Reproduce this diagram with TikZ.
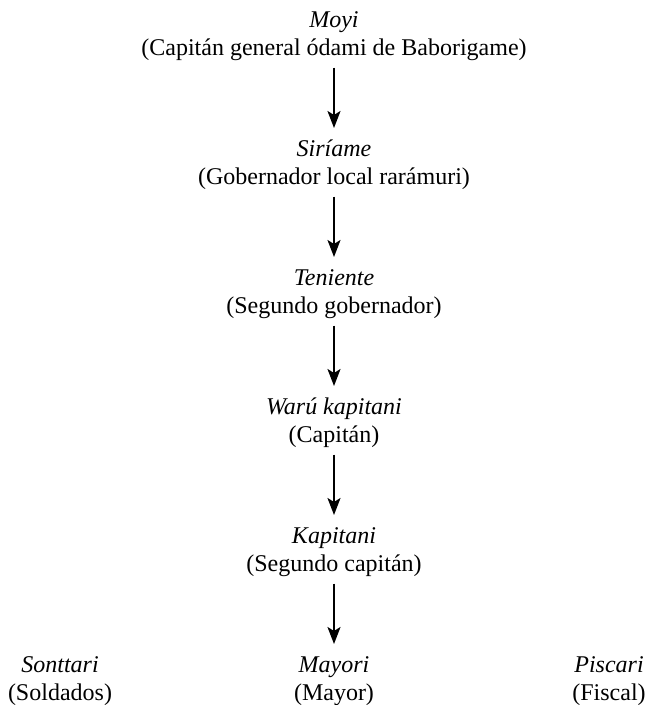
\documentclass[tikz,border=0pt]{standalone}
\usepackage{fontspec}
\setmainfont{Liberation Serif}
\usetikzlibrary{arrows.meta}
\begin{document}
\begin{tikzpicture}[x=1pt,y=-1pt,
  t/.style={anchor=base,inner sep=0pt,font=\fontsize{24}{28}\selectfont},
  arr/.style={line width=2pt,-{Stealth[length=17pt,width=13pt,inset=4pt]}}]
\useasboundingbox (0,0) rectangle (645,705);
% baselines: 27 + 129 i ; second line +28.5
\node[t] (moyiA) at (334,27) {\textit{Moyi}};
\node[t] (moyiB) at (334,55.5) {(Capitán general ódami de Baborigame)};
\node[t] (siriA) at (334,156) {\textit{Siríame}};
\node[t] (siriB) at (334,184.5) {(Gobernador local rarámuri)};
\node[t] (teniA) at (334,285) {\textit{Teniente}};
\node[t] (teniB) at (334,313.5) {(Segundo gobernador)};
\node[t] (waruA) at (334,414) {\textit{Warú kapitani}};
\node[t] (waruB) at (334,442.5) {(Capitán)};
\node[t] (kapiA) at (334,543) {\textit{Kapitani}};
\node[t] (kapiB) at (334,571.5) {(Segundo capitán)};
\node[t] (mayoA) at (334,672) {\textit{Mayori}};
\node[t] (mayoB) at (334,700.5) {(Mayor)};
\node[t] (sontA) at (60,672) {\textit{Sonttari}};
\node[t] (sontB) at (60,700.5) {(Soldados)};
\node[t] (piscA) at (609,672) {\textit{Piscari}};
\node[t] (piscB) at (609,700.5) {(Fiscal)};
\foreach \a/\b in {moyiB/siriA,siriB/teniA,teniB/waruA,waruB/kapiA,kapiB/mayoA}
  \draw[arr] ([yshift=-12pt]\a.base) -- ([yshift=28pt]\b.base);
\end{tikzpicture}
\end{document}
